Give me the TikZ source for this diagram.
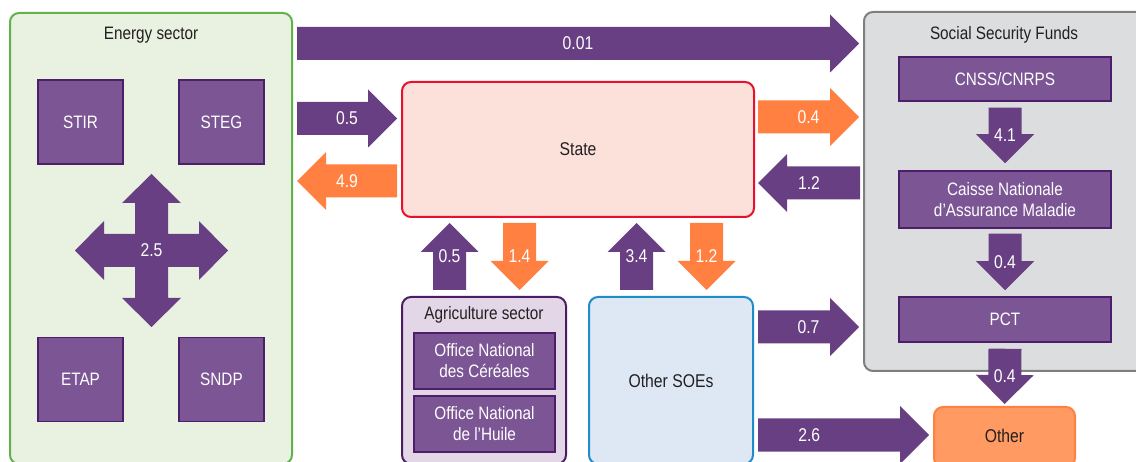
\documentclass[tikz,border=0pt]{standalone}
\usepackage{fontspec}
\setmainfont{Liberation Sans}[FakeStretch=0.85]
\usetikzlibrary{calc}
\definecolor{arrpur}{HTML}{683F82}
\definecolor{arrora}{HTML}{FF8040}
\definecolor{boxpur}{HTML}{7B5594}
\definecolor{boxpurd}{HTML}{4D1F6A}
\definecolor{txtdark}{HTML}{231F20}
\definecolor{engreen}{HTML}{62B14A}
\definecolor{enfill}{HTML}{E9F1E1}
\definecolor{ssgray}{HTML}{7F7F7F}
\definecolor{ssfill}{HTML}{DCDDDF}
\definecolor{stred}{HTML}{E8112D}
\definecolor{stfill}{HTML}{FCE0DA}
\definecolor{agline}{HTML}{4B1E64}
\definecolor{agfill}{HTML}{E3D6E7}
\definecolor{soeline}{HTML}{1E8CC8}
\definecolor{soefill}{HTML}{DDE8F4}
\definecolor{othfill}{HTML}{FF9A62}
\tikzset{
  group/.style={rounded corners=9pt, line width=2pt, inner sep=0pt},
  ttl/.style={text=txtdark, font=\fontsize{18}{20}\selectfont},
  inbox/.style={draw=boxpurd, fill=boxpur, line width=1.5pt, text=white,
    font=\fontsize{18}{21}\selectfont, align=center, inner sep=0pt},
  lbl/.style={text=white, font=\fontsize{18.5}{20}\selectfont, inner sep=0pt},
}
% #1 label position, #2 colour, #3 from, #4 to, #5 label
\newcommand\blockarrow[5][0.5]{%
  \fill[#2] let \p1=(#3), \p2=(#4),
      \n1={atan2(\y2-\y1,\x2-\x1)},
      \n2={veclen(\x2-\x1,\y2-\y1)-29} in
    ($(\p1)+({\n1+90}:16.5pt)$) -- ++({\n1}:{\n2*1pt}) -- ++({\n1+90}:12.5pt) -- (\p2)
    -- ($(\p1)+({\n1}:{\n2*1pt})+({\n1-90}:29pt)$) -- ++({\n1+90}:12.5pt)
    -- ($(\p1)+({\n1-90}:16.5pt)$) -- cycle
    ($(\p1)!#1!(\p2)$) node[lbl] {#5};
}
\begin{document}
\begin{tikzpicture}[x=1pt,y=-1pt]
\useasboundingbox (0,0) rectangle (1136,462);
\clip (0,0) rectangle (1136,462);
% group boxes
\node[group, draw=engreen, fill=enfill, minimum width=282pt, minimum height=451pt] (energy) at (151,238.5) {};
\node[ttl] (entitle) at (151,35) {Energy sector};
\node[group, draw=ssgray, fill=ssfill, minimum width=286pt, minimum height=359pt] (ssf) at (1007,191.5) {};
\node[ttl] (sstitle) at (1004,35) {Social Security Funds};
\node[group, draw=stred, fill=stfill, minimum width=352pt, minimum height=135pt, text=txtdark,
      font=\fontsize{18.5}{20}\selectfont] (state) at (578,149.5) {State};
\node[group, draw=agline, fill=agfill, minimum width=164pt, minimum height=167pt] (agri) at (484,380.5) {};
\node[ttl] (agtitle) at (484,315) {Agriculture sector};
\node[group, draw=soeline, fill=soefill, minimum width=164pt, minimum height=167pt, text=txtdark,
      font=\fontsize{18.5}{20}\selectfont] (soe) at (671,380.5) {Other SOEs};
\node[group, draw=arrora, fill=othfill, minimum width=141pt, minimum height=60pt] (other) at (1004.5,437) {};
\node[text=txtdark, font=\fontsize{18.5}{20}\selectfont] (othertxt) at (1004.5,435.5) {Other};
% energy firms
\node[inbox, minimum width=85pt, minimum height=84pt] (stir) at (80.5,122) {STIR};
\node[inbox, minimum width=85pt, minimum height=84pt] (steg) at (221.5,122) {STEG};
\node[inbox, minimum width=85pt, minimum height=84pt] (etap) at (80.5,379.5) {ETAP};
\node[inbox, minimum width=85pt, minimum height=84pt] (sndp) at (221.5,379.5) {SNDP};
% social security funds
\node[inbox, minimum width=212pt, minimum height=44pt] (cnss) at (1005,79) {CNSS/CNRPS};
\node[inbox, minimum width=212pt, minimum height=57pt] (cnam) at (1005,199.5) {Caisse Nationale\\d’Assurance Maladie};
\node[inbox, minimum width=212pt, minimum height=45pt] (pct) at (1005,319.5) {PCT};
% agriculture offices
\node[inbox, minimum width=141pt, minimum height=56pt] (onc) at (484.5,361) {Office National\\des Céréales};
\node[inbox, minimum width=141pt, minimum height=56pt] (onh) at (484.5,424) {Office National\\de l’Huile};
% cross arrow inside energy sector
\coordinate (cross) at (151.5,250.5);
\fill[arrpur, shift={(cross)}] (0,-76.5) -- (29.5,-47.5) -- (16.5,-47.5) -- (16.5,-16.5) -- (47.5,-16.5)
  -- (47.5,-29.5) -- (76.5,0) -- (47.5,29.5) -- (47.5,16.5) -- (16.5,16.5) -- (16.5,47.5)
  -- (29.5,47.5) -- (0,76.5) -- (-29.5,47.5) -- (-16.5,47.5) -- (-16.5,16.5) -- (-47.5,16.5)
  -- (-47.5,29.5) -- (-76.5,0) -- (-47.5,-29.5) -- (-47.5,-16.5) -- (-16.5,-16.5)
  -- (-16.5,-47.5) -- (-29.5,-47.5) -- cycle;
\node[lbl] (crosslbl) at (cross) {2.5};
% connector end points
\coordinate (e1) at ($(energy.east |- 0,43.5)+(4,0)$);
\coordinate (s1) at ($(ssf.west |- 0,43.5)+(-4,0)$);
\coordinate (e2) at ($(energy.east |- 0,118.5)+(4,0)$);
\coordinate (t2) at ($(state.west |- 0,118.5)+(-4,0)$);
\coordinate (e3) at ($(energy.east |- 0,181)+(4,0)$);
\coordinate (t3) at ($(state.west |- 0,181)+(-4,0)$);
\coordinate (t4) at ($(state.east |- 0,117)+(3,0)$);
\coordinate (s4) at ($(ssf.west |- 0,117)+(-4,0)$);
\coordinate (t5) at ($(state.east |- 0,183)+(3,0)$);
\coordinate (s5) at ($(ssf.west |- 0,183)+(-3,0)$);
\coordinate (o6) at ($(soe.east |- 0,327)+(4,0)$);
\coordinate (s6) at ($(ssf.west |- 0,327)+(-4,0)$);
\coordinate (o7) at ($(soe.east |- 0,435)+(4,0)$);
\coordinate (r7) at ($(other.west |- 0,435)+(-4,0)$);
\coordinate (a8) at ($(449.5,0 |- agri.north)+(0,-6)$);
\coordinate (t8) at ($(449.5,0 |- state.south)+(0,5)$);
\coordinate (t9) at ($(519.5,0 |- state.south)+(0,5)$);
\coordinate (a9) at ($(519.5,0 |- agri.north)+(0,-6)$);
\coordinate (o10) at ($(636.5,0 |- soe.north)+(0,-6)$);
\coordinate (t10) at ($(636.5,0 |- state.south)+(0,5)$);
\coordinate (t11) at ($(706.5,0 |- state.south)+(0,5)$);
\coordinate (o11) at ($(706.5,0 |- soe.north)+(0,-6)$);
\coordinate (c12) at ($(cnss.south)+(0,6)$);
\coordinate (m12) at ($(cnam.north)+(0,-7)$);
\coordinate (m13) at ($(cnam.south)+(0,5)$);
\coordinate (p13) at ($(pct.north)+(0,-6)$);
\coordinate (p14) at ($(pct.south)+(0,6)$);
\coordinate (r14) at ($(other.north)+(0,-2)$);
% block arrows
\blockarrow{arrpur}{e1}{s1}{0.01}
\blockarrow{arrpur}{e2}{t2}{0.5}
\blockarrow{arrora}{t3}{e3}{4.9}
\blockarrow{arrora}{t4}{s4}{0.4}
\blockarrow{arrpur}{s5}{t5}{1.2}
\blockarrow{arrpur}{o6}{s6}{0.7}
\blockarrow[0.3]{arrpur}{o7}{r7}{2.6}
\blockarrow{arrpur}{a8}{t8}{0.5}
\blockarrow{arrora}{t9}{a9}{1.4}
\blockarrow{arrpur}{o10}{t10}{3.4}
\blockarrow{arrora}{t11}{o11}{1.2}
\blockarrow{arrpur}{c12}{m12}{4.1}
\blockarrow{arrpur}{m13}{p13}{0.4}
\blockarrow{arrpur}{p14}{r14}{0.4}
\end{tikzpicture}
\end{document}
